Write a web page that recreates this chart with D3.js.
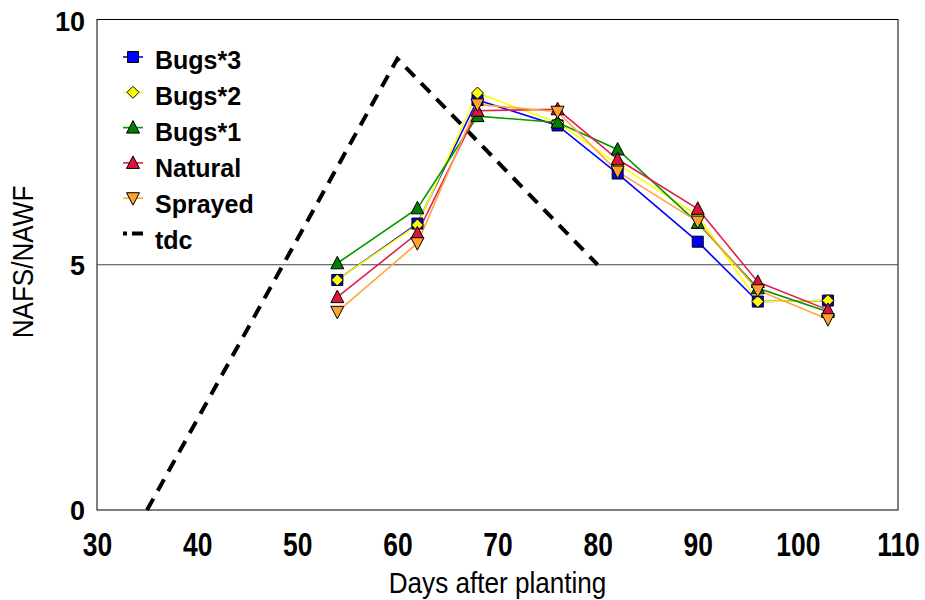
<!DOCTYPE html>
<html>
<head>
<meta charset="utf-8">
<script src="https://cdn.jsdelivr.net/npm/d3@7"></script>
<style>
  html, body { margin: 0; padding: 0; background: #fff; }
  svg { display: block; }
</style>
</head>
<body>
<svg id="chart" width="925" height="600"></svg>
<script>
const days = [54, 62, 68, 76, 82, 90, 96, 103];
const bugs3   = [4.69, 5.84, 8.36, 7.84, 6.86, 5.47, 4.25, 4.27];
const bugs2   = [4.69, 5.81, 8.50, 7.90, 7.05, 6.00, 4.25, 4.27];
const bugs1   = [5.03, 6.15, 8.03, 7.90, 7.35, 5.85, 4.52, 4.04];
const natural = [4.34, 5.64, 8.14, 8.17, 7.15, 6.14, 4.65, 4.08];
const sprayed = [4.04, 5.44, 8.27, 8.12, 6.90, 5.88, 4.48, 3.89];
const tdcX = [35, 60, 80];
const tdcY = [0, 9.2, 5];
const xTicks = [30, 40, 50, 60, 70, 80, 90, 100, 110];
const yTicks = [0, 5, 10];

const seriesDefs = [
  { name: "Bugs*3",  values: bugs3,   color: "#0000FF", fill: "#0000FF", shape: "square" },
  { name: "Bugs*2",  values: bugs2,   color: "#FFFF00", fill: "#FFFF00", shape: "diamond" },
  { name: "Bugs*1",  values: bugs1,   color: "#009900", fill: "#008000", shape: "triUp" },
  { name: "Natural", values: natural, color: "#E0204A", fill: "#DC143C", shape: "triUp" },
  { name: "Sprayed", values: sprayed, color: "#FFA640", fill: "#FFA030", shape: "triDown" }
];

const svg = d3.select("#chart");
const L = 97, R = 898, T = 19.5, B = 510;
const x = d3.scaleLinear().domain([30, 110]).range([L, R]);
const y = d3.scaleLinear().domain([0, 10]).range([B, T]);

// frame
svg.append("rect").attr("x", L).attr("y", T).attr("width", R - L).attr("height", B - T)
  .attr("fill", "#fff").attr("stroke", "#000").attr("stroke-width", 1);

// gridline at 5
svg.append("line").attr("x1", L).attr("x2", R).attr("y1", y(5)).attr("y2", y(5))
  .attr("stroke", "#444").attr("stroke-width", 1.2);

// axes (labels only)
const xAxis = d3.axisBottom(x).tickValues(xTicks).tickSize(0).tickPadding(0);
const gx = svg.append("g").attr("transform", `translate(0,${B + 46})`).call(xAxis);
gx.select(".domain").remove();
gx.selectAll("text").attr("font-family", "'Liberation Sans', Arial, sans-serif")
  .attr("font-weight", "bold").attr("font-size", 33).attr("fill", "#000")
  .attr("dy", "0").attr("y", 0).attr("transform", "scale(0.8,1)");

const yAxis = d3.axisLeft(y).tickValues(yTicks).tickSize(0).tickPadding(0);
const gy = svg.append("g").attr("transform", `translate(${L - 12},0)`).call(yAxis);
gy.select(".domain").remove();
gy.selectAll("text").attr("font-family", "'Liberation Sans', Arial, sans-serif")
  .attr("font-weight", "bold").attr("font-size", 27).attr("fill", "#000").attr("dy", "0.36em");
gy.selectAll(".tick").filter(d => d === 10).select("text").attr("dy", "0.42em");

// titles
svg.append("text").attr("transform", `translate(${(L + R) / 2},593) scale(0.9,1)`)
  .attr("text-anchor", "middle")
  .attr("font-family", "'Liberation Sans', Arial, sans-serif")
  .attr("font-size", 29).attr("fill", "#000").text("Days after planting");
svg.append("text").attr("transform", `translate(33,262) rotate(-90) scale(0.9,1)`)
  .attr("text-anchor", "middle")
  .attr("font-family", "'Liberation Sans', Arial, sans-serif")
  .attr("font-size", 29).attr("fill", "#000").text("NAFS/NAWF");

// tdc dashed line
const tdcPts = tdcX.map((d, i) => [d, tdcY[i]]);
svg.append("path").datum(tdcPts)
  .attr("d", d3.line().x(d => x(d[0])).y(d => y(d[1])))
  .attr("fill", "none").attr("stroke", "#000").attr("stroke-width", 4)
  .attr("stroke-dasharray", "13,9");

// marker path generator
function markerPath(shape) {
  if (shape === "square") return "M-5.5,-5.5H5.5V5.5H-5.5Z";
  if (shape === "diamond") return "M0,-6L6,0L0,6L-6,0Z";
  if (shape === "triUp") return "M0,-7L6.5,5.5H-6.5Z";
  if (shape === "triDown") return "M0,7L6.5,-5.5H-6.5Z";
}

const lineGen = d3.line().x(d => x(d[0])).y(d => y(d[1]));
seriesDefs.forEach(s => {
  const pts = days.map((d, i) => [d, s.values[i]]);
  svg.append("path").datum(pts).attr("d", lineGen)
    .attr("fill", "none").attr("stroke", s.color).attr("stroke-width", 1.6);
});
seriesDefs.forEach(s => {
  const pts = days.map((d, i) => [d, s.values[i]]);
  svg.append("g").selectAll("path").data(pts).join("path")
    .attr("transform", d => `translate(${x(d[0])},${y(d[1])})`)
    .attr("d", markerPath(s.shape))
    .attr("fill", s.fill).attr("stroke", "#000").attr("stroke-width", 1);
});

// legend
const legItems = seriesDefs.concat([{ name: "tdc", tdc: true }]);
const leg = svg.append("g");
legItems.forEach((s, i) => {
  const my = 57 + i * 35.3;
  const ty = 60 + i * 36;
  if (s.tdc) {
    leg.append("line").attr("x1", 123).attr("x2", 143).attr("y1", my).attr("y2", my)
      .attr("stroke", "#000").attr("stroke-width", 4).attr("stroke-dasharray", "4,5,11");
  } else {
    leg.append("line").attr("x1", 123).attr("x2", 143).attr("y1", my).attr("y2", my)
      .attr("stroke", s.color).attr("stroke-width", 1.6);
    leg.append("path").attr("transform", `translate(133,${my})`)
      .attr("d", markerPath(s.shape)).attr("fill", s.fill)
      .attr("stroke", "#000").attr("stroke-width", 1);
  }
  leg.append("text").attr("x", 155).attr("y", ty).attr("dy", "0.36em")
    .attr("font-family", "'Liberation Sans', Arial, sans-serif")
    .attr("font-weight", "bold").attr("font-size", 25).attr("fill", "#000").text(s.name);
});
</script>
</body>
</html>
